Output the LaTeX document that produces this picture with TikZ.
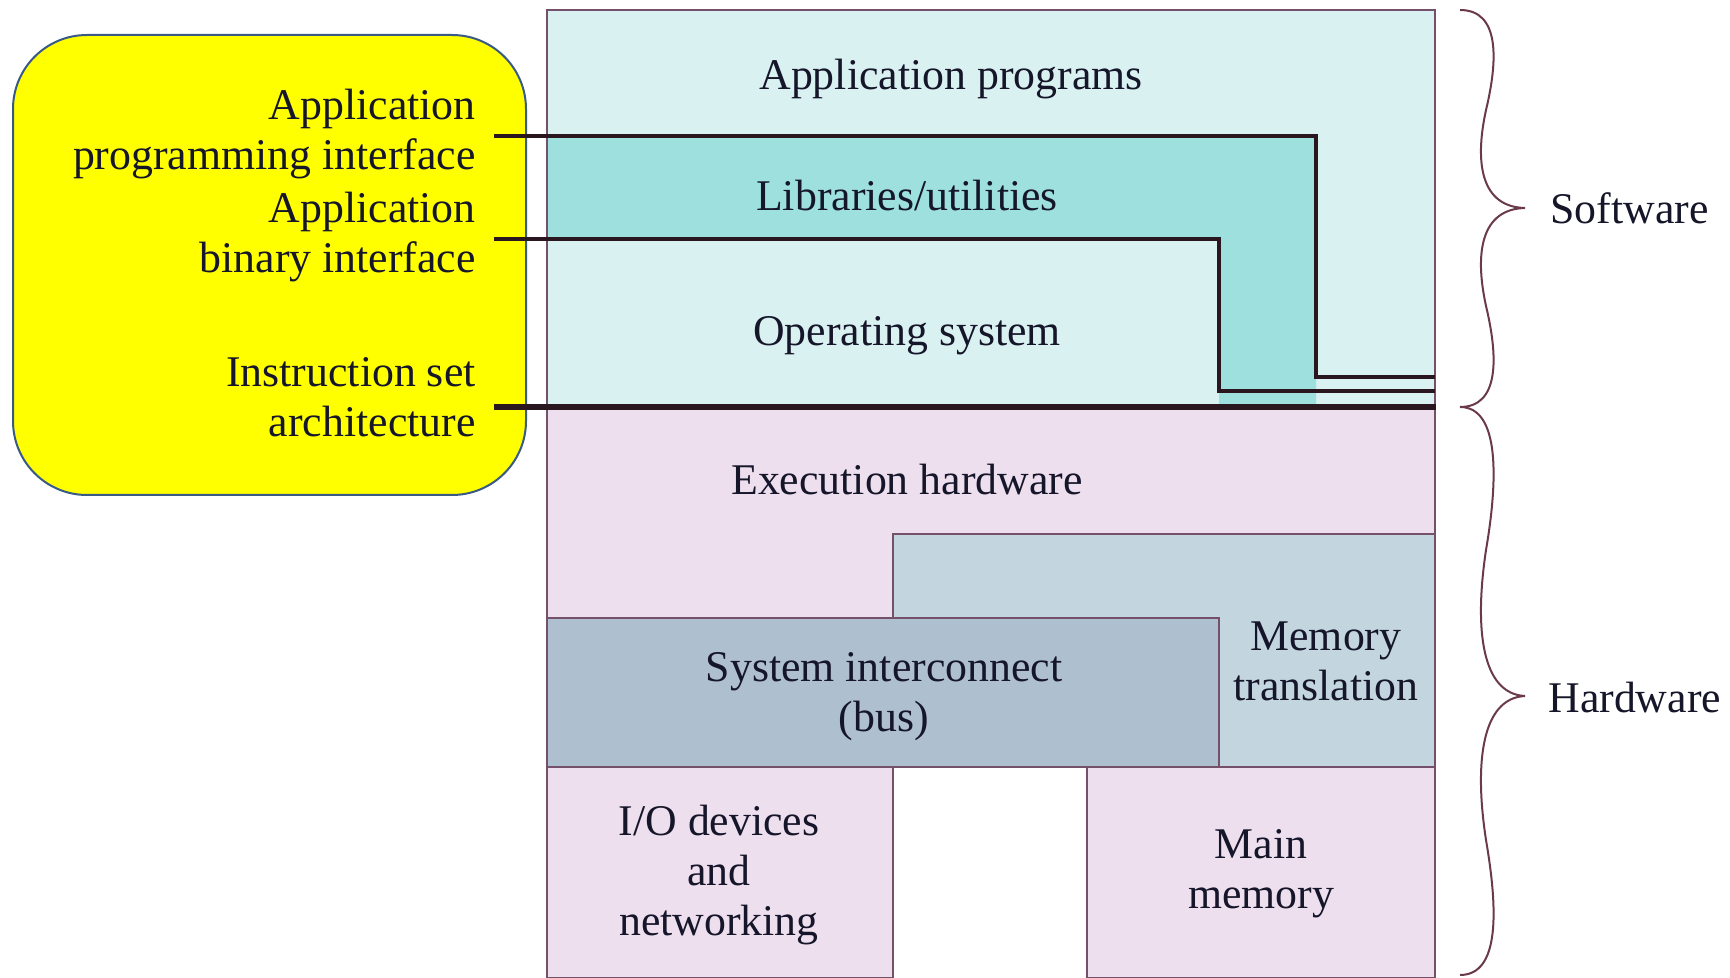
\documentclass[tikz,border=0pt]{standalone}
\usepackage{fontspec}
\setmainfont{Liberation Serif}
\definecolor{swcyan}{HTML}{D9F1F1}
\definecolor{libteal}{HTML}{9DE0DD}
\definecolor{hwpink}{HTML}{EEDFEE}
\definecolor{mtblue}{HTML}{C3D6E0}
\definecolor{sibus}{HTML}{AEBFCF}
\definecolor{boxline}{HTML}{74506A}
\definecolor{ifline}{HTML}{2A161E}
\definecolor{txt}{HTML}{16162A}
\definecolor{ylw}{HTML}{FFFF00}
\definecolor{ylwline}{HTML}{3A5A86}
\definecolor{bracec}{HTML}{6A3A4A}
\begin{document}
\begin{tikzpicture}[x=0.5pt,y=-0.5pt,
  frame/.style={draw=boxline, line width=0.8pt},
  iface/.style={draw=ifline, line width=1.7pt},
  isaline/.style={draw=ifline, line width=2.7pt},
  bracestyle/.style={draw=bracec, line width=1pt},
  lbl/.style={font=\fontsize{21.9pt}{25pt}\selectfont, text=txt, align=center, inner sep=0pt},
  lblr/.style={font=\fontsize{21.9pt}{25pt}\selectfont, text=txt, align=right, inner sep=0pt, anchor=east}]
\useasboundingbox (0,0) rectangle (1730,978);

% yellow box
\draw[fill=ylw, draw=ylwline, line width=1pt, rounded corners=37pt] (13,35) rectangle (526,495);

% software area
\fill[swcyan] (547,10) rectangle (1435,407);
\fill[libteal] (547,136) -- (1316,136) -- (1316,407) -- (1219,407) -- (1219,239) -- (547,239) -- cycle;
\draw[frame] (547,10) rectangle (1435,407);

% hardware area
\draw[frame, fill=hwpink] (547,407) -- (1435,407) -- (1435,534) -- (893,534) -- (893,618) -- (547,618) -- cycle;
\draw[frame, fill=mtblue] (893,534) rectangle (1435,767);
\draw[frame, fill=sibus] (547,618) rectangle (1219,767);
\draw[frame, fill=hwpink] (547,767) rectangle (893,978);
\draw[frame, fill=hwpink] (1087,767) rectangle (1435,978);

% interface lines
\coordinate (apiS) at (494,136);
\coordinate (apiC) at (1316,136);
\coordinate (apiD) at (1316,377);
\coordinate (apiE) at (1435,377);
\coordinate (abiS) at (494,239);
\coordinate (abiC) at (1219,239);
\coordinate (abiD) at (1219,391);
\coordinate (abiE) at (1435,391);
\coordinate (isaS) at (494,407);
\coordinate (isaE) at (1436,407);
\draw[iface] (apiS) -- (apiC) -- (apiD) -- (apiE);
\draw[iface] (abiS) -- (abiC) -- (abiD) -- (abiE);
\draw[isaline] (isaS) -- (isaE);

% labels in boxes
\node[lbl] (app) at (951,79) {Application programs};
\node[lbl] (lib) at (907,196) {Libraries/utilities};
\node[lbl] (os) at (907,336) {Operating system};
\node[lbl] (exe) at (907,480) {Execution hardware};
\node[lbl] (sys) at (884,697) {System interconnect\\(bus)};
\node[lbl] (mt) at (1326,661) {Memory\\translation};
\node[lbl] (io) at (719,875) {I/O devices\\and\\networking};
\node[lbl] (mm) at (1261,874) {Main\\memory};

% interface labels
\node[lblr] (api) at (476,134) {Application\\programming interface};
\node[lblr] (abi) at (476,237) {Application\\binary interface};
\node[lblr] (isa) at (476,397) {Instruction set\\architecture};

% braces
\coordinate (swT) at (1460,10);
\coordinate (swTip) at (1525,208);
\coordinate (swB) at (1460,407);
\coordinate (hwB) at (1460,975);
\coordinate (hwTip) at (1525,696);
\draw[bracestyle] (swT) .. controls (1500,10) and (1498,60) .. (1486,110)
  .. controls (1474,165) and (1482,207) .. (swTip)
  .. controls (1482,209) and (1474,251) .. (1486,306)
  .. controls (1498,356) and (1500,407) .. (swB);
\draw[bracestyle] (swB) .. controls (1500,407) and (1498,480) .. (1486,550)
  .. controls (1474,630) and (1482,694) .. (hwTip)
  .. controls (1482,698) and (1474,762) .. (1486,840)
  .. controls (1498,910) and (1500,975) .. (hwB);
\node[lbl, anchor=west] (sw) at (1550,208) {Software};
\node[lbl, anchor=west] (hw) at (1548,698) {Hardware};
\end{tikzpicture}
\end{document}
